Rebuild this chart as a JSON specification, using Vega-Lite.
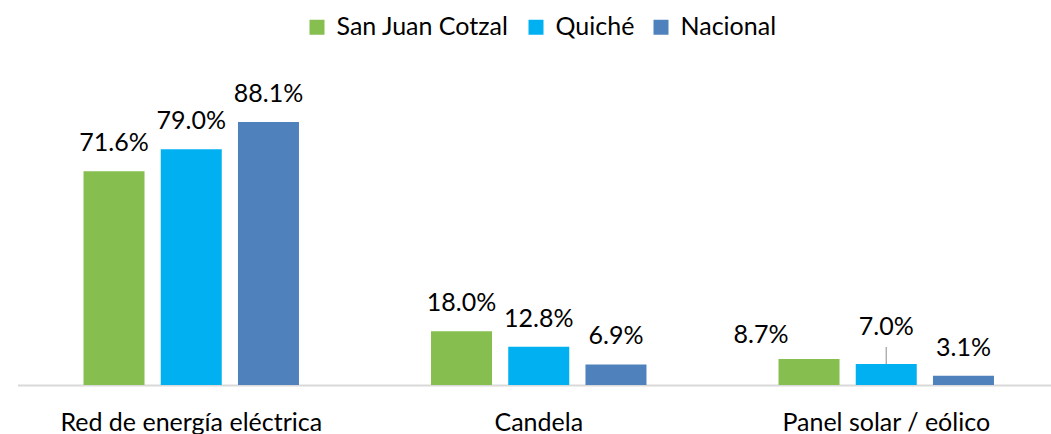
{
  "$schema": "https://vega.github.io/schema/vega-lite/v6.json",
  "autosize": "none",
  "width": 1042.5,
  "height": 298.5,
  "padding": {"left": 17.5, "top": 86.5, "right": 0, "bottom": 49},
  "background": "white",
  "config": {
    "view": {"stroke": null},
    "font": "Lato",
    "text": {"font": "Lato"}
  },
  "data": {
    "values": [
      {"category": "Red de energía eléctrica", "series": "San Juan Cotzal", "value": 0.716},
      {"category": "Red de energía eléctrica", "series": "Quiché", "value": 0.790},
      {"category": "Red de energía eléctrica", "series": "Nacional", "value": 0.881},
      {"category": "Candela", "series": "San Juan Cotzal", "value": 0.180},
      {"category": "Candela", "series": "Quiché", "value": 0.128},
      {"category": "Candela", "series": "Nacional", "value": 0.069},
      {"category": "Panel solar / eólico", "series": "San Juan Cotzal", "value": 0.087},
      {"category": "Panel solar / eólico", "series": "Quiché", "value": 0.070},
      {"category": "Panel solar / eólico", "series": "Nacional", "value": 0.031}
    ]
  },
  "encoding": {
    "x": {
      "field": "category",
      "type": "nominal",
      "sort": ["Red de energía eléctrica", "Candela", "Panel solar / eólico"],
      "scale": {"paddingInner": 0.38, "paddingOuter": 0.19},
      "axis": {
        "title": null,
        "labelAngle": 0,
        "labelFont": "Lato",
        "labelFontSize": 25,
        "labelFontWeight": "normal",
        "labelColor": "#000000",
        "labelPadding": 25,
        "labelLimit": 600,
        "ticks": false,
        "domainColor": "#d9d9d9",
        "domainWidth": 2,
        "grid": false
      }
    },
    "xOffset": {
      "field": "series",
      "type": "nominal",
      "sort": ["San Juan Cotzal", "Quiché", "Nacional"],
      "scale": {"paddingInner": 0.21, "paddingOuter": 0}
    },
    "y": {
      "field": "value",
      "type": "quantitative",
      "scale": {"domain": [0, 1], "nice": false},
      "axis": null
    }
  },
  "layer": [
    {
      "mark": {"type": "bar"},
      "encoding": {
        "color": {
          "field": "series",
          "type": "nominal",
          "sort": ["San Juan Cotzal", "Quiché", "Nacional"],
          "scale": {
            "domain": ["San Juan Cotzal", "Quiché", "Nacional"],
            "range": ["#86BE4F", "#00B0F0", "#4F81BD"]
          },
          "legend": {
            "title": null,
            "orient": "none",
            "direction": "horizontal",
            "legendX": 287,
            "legendY": -72,
            "padding": 0,
            "symbolType": "square",
            "symbolSize": 225,
            "symbolStrokeWidth": 0,
            "labelFont": "Lato",
            "labelFontSize": 25,
            "labelColor": "#000000",
            "labelOffset": 7,
            "columnPadding": 14,
            "labelLimit": 400
          }
        }
      }
    },
    {
      "transform": [
        {"filter": "!(datum.category === 'Panel solar / eólico' && (datum.series === 'San Juan Cotzal' || datum.series === 'Quiché'))"}
      ],
      "mark": {"type": "text", "baseline": "alphabetic", "align": "center", "dy": -20, "fontSize": 25, "color": "#000000"},
      "encoding": {"text": {"field": "value", "type": "quantitative", "format": ".1%"}}
    },
    {
      "transform": [
        {"filter": "datum.category === 'Panel solar / eólico' && datum.series === 'San Juan Cotzal'"}
      ],
      "mark": {"type": "text", "baseline": "alphabetic", "align": "center", "dx": -48, "dy": -16, "fontSize": 25, "color": "#000000"},
      "encoding": {"text": {"field": "value", "type": "quantitative", "format": ".1%"}}
    },
    {
      "transform": [
        {"filter": "datum.category === 'Panel solar / eólico' && datum.series === 'Quiché'"}
      ],
      "mark": {"type": "text", "baseline": "alphabetic", "align": "center", "dy": -29, "fontSize": 25, "color": "#000000"},
      "encoding": {"text": {"field": "value", "type": "quantitative", "format": ".1%"}}
    },
    {
      "transform": [
        {"filter": "datum.category === 'Panel solar / eólico' && datum.series === 'Quiché'"}
      ],
      "mark": {"type": "rule", "color": "#a6a6a6", "strokeWidth": 1.3, "y2Offset": -17},
      "encoding": {
        "y2": {"field": "value"}
      }
    }
  ]
}
